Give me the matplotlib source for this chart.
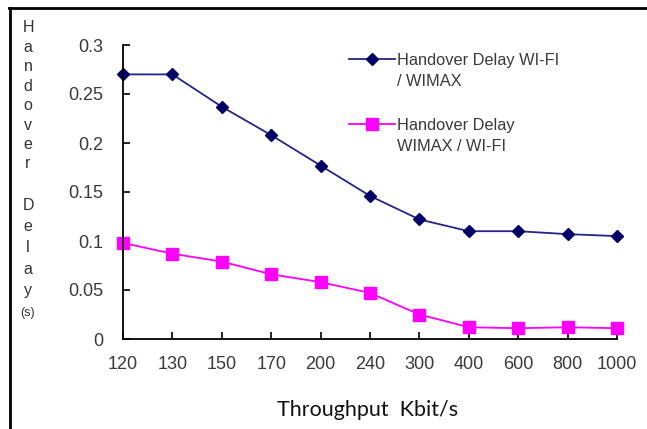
import matplotlib
matplotlib.use("Agg")
import matplotlib.pyplot as plt
from matplotlib.lines import Line2D

# data
throughput = ["120", "130", "150", "170", "200", "240", "300", "400", "600", "800", "1000"]
wifi_to_wimax = [0.270, 0.270, 0.237, 0.208, 0.177, 0.146, 0.122, 0.110, 0.110, 0.107, 0.105]
wimax_to_wifi = [0.098, 0.087, 0.079, 0.066, 0.058, 0.047, 0.025, 0.012, 0.011, 0.012, 0.011]
yticks = [0, 0.05, 0.1, 0.15, 0.2, 0.25, 0.3]
ytick_labels = ["0", "0.05", "0.1", "0.15", "0.2", "0.25", "0.3"]
legend_first = ["Handover Delay WI-FI", "Handover Delay"]
legend_second = ["/ WIMAX", "WIMAX / WI-FI"]

txt = "#3a3a3a"
plt.rcParams["font.family"] = ["Liberation Sans", "DejaVu Sans"]

fig = plt.figure(figsize=(6.47, 4.29), dpi=100)
ax = fig.add_axes([123 / 647, 1 - 339 / 429, (617 - 123) / 647, (339 - 45) / 429])

x = list(range(len(throughput)))
ax.plot(x, wifi_to_wimax, color="#24248a", lw=1.3, marker="D", ms=6.5,
        mfc="#000066", mec="#000066", label=legend_first[0], clip_on=False)
ax.plot(x, wimax_to_wifi, color="#ff00ff", lw=1.3, marker="s", ms=8.5,
        mfc="#ff00ff", mec="#ff00ff", label=legend_first[1], clip_on=False)

ax.set_xlim(0, len(throughput) - 1)
ax.set_ylim(0, 0.3)
ax.set_xticks(x)
ax.set_xticklabels(throughput)
ax.set_yticks(yticks)
ax.set_yticklabels(ytick_labels)
ax.tick_params(direction="in", length=5, width=1.2, colors="black", labelcolor=txt, labelsize=13)
ax.tick_params(axis="y", pad=14)
ax.tick_params(axis="x", pad=12)
for s in ["top", "right"]:
    ax.spines[s].set_visible(False)
for s in ["left", "bottom"]:
    ax.spines[s].set_linewidth(1.3)

leg = ax.legend(loc="upper left", bbox_to_anchor=(349 / 647, 1 - 53 / 429), bbox_transform=fig.transFigure,
                frameon=False, fontsize=11.8, handlelength=2.8, handletextpad=0.15,
                labelspacing=3.05, labelcolor=txt, borderaxespad=0, borderpad=0)

# second line of each legend label, under the first
fig.canvas.draw()
r = fig.canvas.get_renderer()
for t, extra in zip(leg.get_texts(), legend_second):
    bb = t.get_window_extent(r)
    fig.text(bb.x0 / fig.bbox.width, (bb.y0 - 21 + bb.height / 2) / fig.bbox.height, extra,
             ha="left", va="center", fontsize=11.8, color=txt)

fig.text(368 / 647, 1 - 410 / 429, "Throughput  Kbit/s", ha="center", va="center",
         fontsize=15.5, family=["Lato", "DejaVu Sans"], color="#111111")

# stacked y label
for i, ch in enumerate("Handover"):
    fig.text(28 / 647, 1 - (28 + i * 19.4) / 429, ch, ha="center", va="center", fontsize=11.5, color="#333333")
for i, ch in enumerate("Delay"):
    fig.text(28 / 647, 1 - (206 + i * 21) / 429, ch, ha="center", va="center", fontsize=11.5, color="#333333")
fig.text(28 / 647, 1 - 313 / 429, "(s)", ha="center", va="center", fontsize=9, color="#333333")

# partial frame
fig.add_artist(Line2D([9 / 647, 1], [1 - 8 / 429, 1 - 8 / 429], color="black", lw=2, transform=fig.transFigure))
fig.add_artist(Line2D([10 / 647, 10 / 647], [0, 1 - 8 / 429], color="black", lw=2, transform=fig.transFigure))

fig.savefig("out.png", dpi=100)
